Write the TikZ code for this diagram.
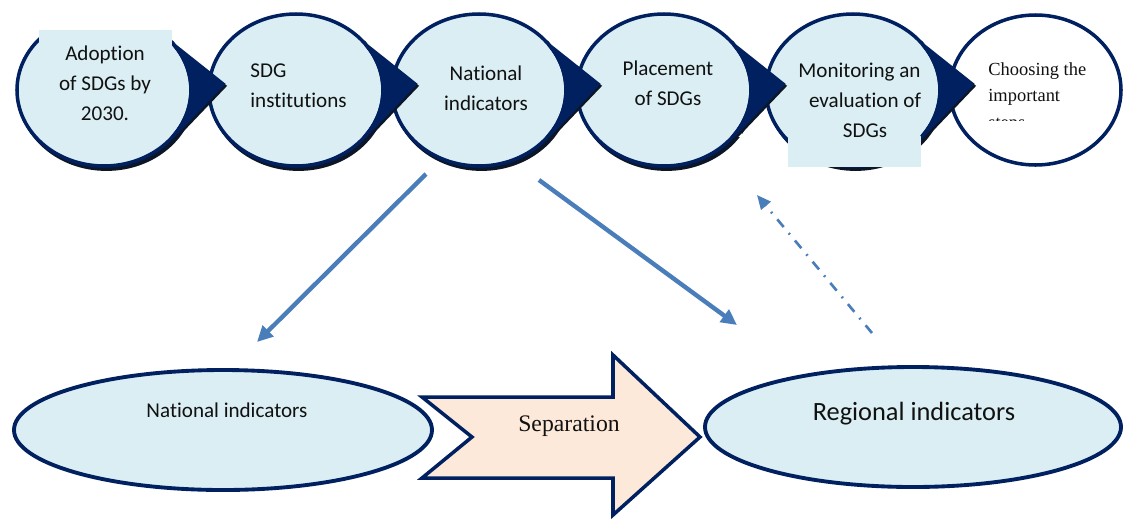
\documentclass[tikz,border=0pt]{standalone}
\usepackage{fontspec}
\usepackage{tikz}
\usetikzlibrary{positioning,arrows.meta,calc,shapes.geometric,shadows}
\newfontfamily\calib[Ligatures=NoCommon]{Carlito}
\newfontfamily\tms{Liberation Serif}
\definecolor{bubfill}{HTML}{DAEEF3}
\definecolor{bubline}{HTML}{002060}
\definecolor{bubshade}{HTML}{0C1626}
\definecolor{sepfill}{HTML}{FDE9D9}
\definecolor{flow}{HTML}{4A7EBB}
\definecolor{ink}{HTML}{111111}
\newcommand{\bubf}{\calib\fontsize{12}{17}\selectfont}
\newcommand{\regf}{\calib\fontsize{15}{18}\selectfont}
\newcommand{\tmsf}{\tms\fontsize{10.5}{14.8}\selectfont}
\newcommand{\sepf}{\tms\fontsize{13.5}{16}\selectfont}

\begin{document}
\begin{tikzpicture}[
  text=ink, font=\bubf,
  bub/.style={ellipse, minimum width=3.48cm, minimum height=3.04cm, inner sep=0pt, line width=2pt,
              draw=bubline, fill=bubfill,
              general shadow={fill=bubshade, draw=bubshade, shadow xshift=1.4pt, shadow yshift=-1.8pt}},
  last/.style={ellipse, minimum width=3.42cm, minimum height=3.0cm, inner sep=0pt, line width=2pt,
               draw=bubline, fill=white},
  oval/.style={ellipse, minimum width=8.36cm, minimum height=2.4cm, inner sep=0pt, line width=2.2pt,
               draw=bubline, fill=bubfill},
  ptr/.style={fill=bubline, draw=bubline, line width=2pt, line join=miter},
  ptrshade/.style={draw=bubshade, line width=2pt, line join=miter},
  patch/.style={fill=#1, draw=none},
  sepbox/.style={fill=sepfill, draw=bubline, line width=2pt, line join=miter},
  flowarr/.style={-{Triangle[length=9pt, width=8.5pt]}, line width=2.5pt, draw=flow},
  backarr/.style={-{Triangle[length=8pt, width=7pt]}, line width=1.5pt, draw=flow,
                  dash pattern=on 5.7pt off 4.5pt on 1pt off 4.5pt},
]
\useasboundingbox (0,0) rectangle (22.48,-10.5);
% ---------------- top row: steps ----------------
\node[bub] (s1) at (2.08,-1.8) {};
\node[bub] (s2) at (5.92,-1.8) {};
\node[bub] (s3) at (9.58,-1.8) {};
\node[bub] (s4) at (13.28,-1.8) {};
\node[bub] (s5) at (17.06,-1.8) {};
\node[last] (s6) at (20.71,-1.8) {};
% text boxes that cut into the outlines
\fill[patch=white] (0.78,0) rectangle (3.44,-0.60);
\fill[patch=bubfill] (0.78,-0.60) rectangle (3.44,-1.16);
\fill[patch=bubfill] (15.76,-1.12) rectangle (18.42,-3.34);
\fill[patch=white] (11.10,-0.90) rectangle (11.18,-1.04);
\fill[patch=white] (14.74,-2.56) rectangle (14.84,-2.74);
% pointers to the next step
\foreach \n in {s1,s2,s3,s4,s5} {
  \draw[ptrshade] ($(\n)+({1.74*cos(36)},{1.52*sin(36)})+(0.03,-0.04)$) -- ($(\n)+(2.38,0.12)+(0.03,-0.04)$)
    -- ($(\n)+({1.74*cos(-38)},{1.52*sin(-38)})+(0.03,-0.04)$);
  \draw[ptr] ($(\n)+({1.74*cos(36)},{1.52*sin(36)})$) -- ($(\n)+(2.38,0.12)$)
    -- ($(\n)+({1.74*cos(-38)},{1.52*sin(-38)})$) arc[start angle=-38, end angle=36, x radius=1.74, y radius=1.52] -- cycle;
}
% (anchor=base sits on the last line of a multi-line node)
\node[anchor=base, align=center] (t1) at (2.10,-2.40) {Adoption\\of SDGs by\\2030.};
\node[anchor=base west, align=left, inner xsep=0pt] (t2) at (5.00,-2.14) {SDG\\institutions};
\node[anchor=base, align=center] (t3) at (9.72,-2.20) {National\\indicators};
\node[anchor=base, align=center] (t4) at (13.36,-2.10) {Placement\\of SDGs};
\begin{scope}
  \clip (15.76,-1.12) rectangle (18.42,-3.34);
  \node[anchor=base, align=center] (t5) at (17.30,-2.74) {Monitoring an\phantom{d}\\evaluation of\\SDGs};
\end{scope}
\begin{scope}
  \clip (19.0,-0.3) rectangle (22.4,-2.40);
  \node[anchor=base west, align=left, inner xsep=0pt, font=\tmsf] (t6) at (19.76,-2.56) {Choosing the\\important\\steps};
\end{scope}

% ---------------- bottom row ----------------
\node[oval] (nat) at (4.46,-8.60) {};
\node[anchor=base] (natt) at (4.54,-8.34) {National indicators};
\draw[sepbox] (8.44,-7.94) -- (12.26,-7.94) -- (12.26,-7.10) -- (14.00,-8.74) -- (12.26,-10.30)
  -- (12.26,-9.56) -- (8.44,-9.56) -- (9.44,-8.74) -- cycle;
\node[anchor=base, font=\sepf] (sep) at (11.38,-8.62) {Separation};
\node[oval, minimum width=8.32cm] (reg) at (18.26,-8.54) {};
\node[anchor=base, font=\regf] (regt) at (18.28,-8.40) {Regional indicators};

% ---------------- links ----------------
\coordinate (f1a) at (8.52,-3.48);  \coordinate (f1b) at (5.14,-6.84);
\coordinate (f2a) at (10.78,-3.60); \coordinate (f2b) at (14.74,-6.50);
\coordinate (f3a) at (17.44,-6.66); \coordinate (f3b) at (15.14,-3.90);
\draw[flowarr] (f1a) -- (f1b);
\draw[flowarr] (f2a) -- (f2b);
\draw[backarr] (f3a) -- (f3b);
\end{tikzpicture}
\end{document}
